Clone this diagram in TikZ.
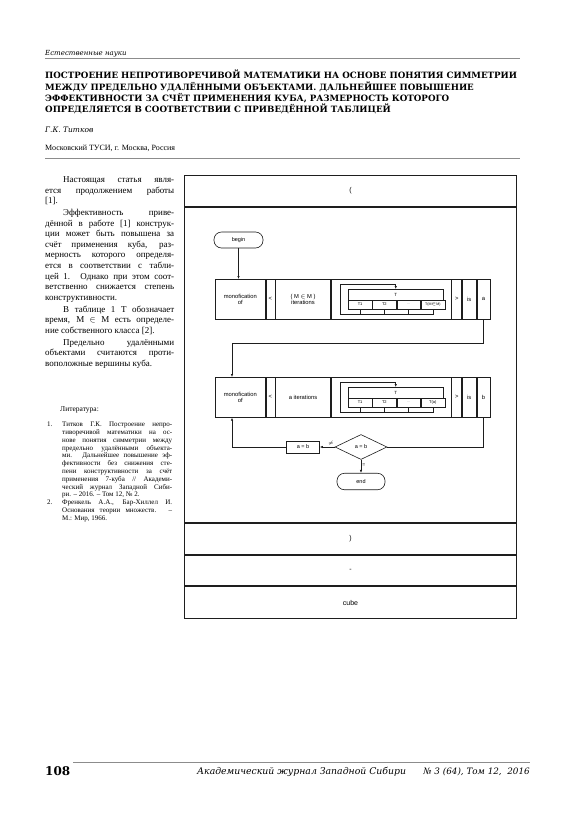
\documentclass[tikz,border=0pt]{standalone}
\usepackage{fontspec}
\setmainfont{Liberation Serif}
\setsansfont{Liberation Sans}
\newfontfamily\slabfont{DejaVu Serif}
\usetikzlibrary{arrows.meta,positioning,shapes.geometric}
\definecolor{rulec}{HTML}{8C8C8C}
\definecolor{linec}{HTML}{1E1E1E}
\definecolor{dimtxt}{HTML}{A0A0A0}
\hyphenpenalty=10000
\exhyphenpenalty=10000

\begin{document}
\begin{tikzpicture}[x=1pt, y=-1pt,
  >={Latex[length=3pt,width=2.4pt]},
  rule/.style={draw=rulec, line width=0.9pt},
  frow/.style={draw=linec, line width=1pt, minimum width=332pt, inner sep=0pt,
     font=\sffamily\fontsize{7}{8}\selectfont},
  cell/.style={draw=linec, line width=0.6pt, inner sep=0pt, minimum height=40pt,
     align=center, font=\sffamily\fontsize{5.8}{6.6}\selectfont},
  term/.style={draw=linec, line width=0.6pt, rounded corners=7.5pt, minimum height=16pt,
     minimum width=49pt, font=\sffamily\fontsize{5.5}{6}\selectfont},
  tbox/.style={draw=linec, line width=0.5pt, inner sep=0pt, minimum width=95pt,
     minimum height=10.5pt, font=\sffamily\fontsize{4.5}{5}\selectfont},
  tsub/.style={tbox, minimum width=23.75pt, minimum height=8.5pt,
     font=\sffamily\fontsize{4}{4.5}\selectfont},
  dec/.style={diamond, draw=linec, line width=0.6pt, inner sep=0.5pt, minimum width=52pt,
     minimum height=25pt, font=\sffamily\fontsize{5.5}{6}\selectfont},
  act/.style={draw=linec, line width=0.6pt, inner sep=0pt, minimum width=33pt,
     minimum height=12pt, font=\sffamily\fontsize{5.5}{6}\selectfont},
  lbl/.style={inner sep=1pt, font=\sffamily\fontsize{5}{5}\selectfont},
  wire/.style={draw=linec, line width=0.6pt},
  txt/.style={inner sep=0pt},
]
\fill[white] (0,0) rectangle (580,820);
\useasboundingbox (0,0) rectangle (580,820);

% --- page head ---
\node[txt, anchor=base west, font=\slabfont\itshape\fontsize{7}{8}\selectfont] (rubric) at (45,55) {Естественные науки};
\draw[rule] (45,58.5) -- (520,58.5);
\node[txt, anchor=north west, align=left, font=\slabfont\bfseries\fontsize{8.7}{11.2}\selectfont] (title) at (45,70)
  {ПОСТРОЕНИЕ НЕПРОТИВОРЕЧИВОЙ МАТЕМАТИКИ НА ОСНОВЕ ПОНЯТИЯ СИММЕТРИИ\\
   МЕЖДУ ПРЕДЕЛЬНО УДАЛЁННЫМИ ОБЪЕКТАМИ. ДАЛЬНЕЙШЕЕ ПОВЫШЕНИЕ\\
   ЭФФЕКТИВНОСТИ ЗА СЧЁТ ПРИМЕНЕНИЯ КУБА, РАЗМЕРНОСТЬ КОТОРОГО\\
   ОПРЕДЕЛЯЕТСЯ В СООТВЕТСТВИИ С ПРИВЕДЁННОЙ ТАБЛИЦЕЙ};
\node[txt, anchor=base west, font=\slabfont\itshape\fontsize{7.5}{9}\selectfont] (author) at (45,132) {Г.К. Титков};
\node[txt, anchor=base west, font=\fontsize{8}{9}\selectfont] (affil) at (45,150) {Московский ТУСИ, г. Москва, Россия};
\draw[rule] (45,158.5) -- (520,158.5);

% --- left column ---
\node[txt, anchor=north west, text width=129pt, align=justify, font=\fontsize{9}{10.6}\selectfont] (column) at (45,176.5) {%
\hspace*{18pt}Настоящая статья явля-\linebreak
ется продолжением работы\linebreak{}[1].\\[1.2pt]
\hspace*{18pt}Эффективность приве-\linebreak
дённой в работе [1] конструк-\linebreak
ции может быть повышена за\linebreak
счёт применения куба, раз-\linebreak
мерность которого определя-\linebreak
ется в соответствии с табли-\linebreak
цей 1. Однако при этом соот-\linebreak
ветственно снижается степень\linebreak
конструктивности.\\[1.2pt]
\hspace*{18pt}В таблице 1 T обозначает\linebreak
время, M~$\in$~M есть определе-\linebreak
ние собственного класса [2].\\[1.2pt]
\hspace*{18pt}Предельно удалёнными\linebreak
объектами считаются проти-\linebreak
воположные вершины куба.};
\node[txt, anchor=base west, font=\fontsize{7.5}{8}\selectfont] (litlabel) at (60,411.5) {Литература:};
\node[txt, anchor=north west, text width=125pt, align=justify, font=\fontsize{7}{7.8}\selectfont] (refs) at (47,421.8) {%
\hangindent=15pt\hangafter=1\noindent\makebox[15pt][l]{1.}Титков Г.К. Построение непро-\linebreak
тиворечивой математики на ос-\linebreak
нове понятия симметрии между\linebreak
предельно удалёнными объекта-\linebreak
ми. Дальнейшее повышение эф-\linebreak
фективности без снижения сте-\linebreak
пени конструктивности за счёт\linebreak
применения 7-куба // Академи-\linebreak
ческий журнал Западной Сиби-\linebreak
ри. – 2016. – Том 12, №~2.\par
\hangindent=15pt\hangafter=1\noindent\makebox[15pt][l]{2.}Френкель А.А., Бар-Хиллел И.\linebreak
Основания теории множеств. –\linebreak
М.: Мир, 1966.\par};

% --- outer frame (rows) ---
\node[frow, minimum height=30.5pt, anchor=north west] (openp) at (184,175) {(};
\node[frow, minimum height=315.5pt, below=0pt of openp] (mainc) {};
\node[frow, minimum height=31pt, below=0pt of mainc] (closep) {)};
\node[frow, minimum height=30pt, below=0pt of closep] (dash) {-};
\node[frow, minimum height=32pt, below=0pt of dash] (cube) {cube};

% --- flowchart ---
\def\ya{279}
\def\yb{377}
\node[term] (begin) at (238.5,240) {begin};
% row 1
\node[cell, minimum width=50pt, anchor=north west] (mono1) at (215,\ya) {monofication\\of};
\node[cell, minimum width=9pt, right=0pt of mono1] (lsym1) {<};
\node[cell, minimum width=55pt, right=0pt of lsym1] (iter1) {( M $\in$ M )\\iterations};
\node[cell, minimum width=120pt, right=0pt of iter1] (tcell1) {};
\node[cell, minimum width=10pt, right=0pt of tcell1] (gsym1) {>};
\node[cell, minimum width=14pt, right=0pt of gsym1] (is1) {is};
\node[cell, minimum width=13pt, right=0pt of is1] (a1) {a};
\node[tbox, anchor=north west] (thead1) at (348,{\ya+10}) {T};
\node[tsub, anchor=north west] (ts11) at (thead1.south west) {T1};
\node[tsub, right=0pt of ts11] (ts12) {T2};
\node[tsub, right=0pt of ts12, text=dimtxt] (ts13) {...};
\node[tsub, right=0pt of ts13, font=\sffamily\fontsize{3.6}{4}\selectfont] (ts14) {T(M$\in$M)};
\coordinate (lpb1) at (340,{\ya+35});
\coordinate (lpt1) at (340,{\ya+5});
% row 2
\node[cell, minimum width=50pt, anchor=north west] (mono2) at (215,\yb) {monofication\\of};
\node[cell, minimum width=9pt, right=0pt of mono2] (lsym2) {<};
\node[cell, minimum width=55pt, right=0pt of lsym2] (iter2) {a iterations};
\node[cell, minimum width=120pt, right=0pt of iter2] (tcell2) {};
\node[cell, minimum width=10pt, right=0pt of tcell2] (gsym2) {>};
\node[cell, minimum width=14pt, right=0pt of gsym2] (is2) {is};
\node[cell, minimum width=13pt, right=0pt of is2] (b2) {b};
\node[tbox, anchor=north west] (thead2) at (348,{\yb+10}) {T};
\node[tsub, anchor=north west] (ts21) at (thead2.south west) {T1};
\node[tsub, right=0pt of ts21] (ts22) {T2};
\node[tsub, right=0pt of ts22, text=dimtxt] (ts23) {...};
\node[tsub, right=0pt of ts23] (ts24) {T(a)};
\coordinate (lpb2) at (340,{\yb+35});
\coordinate (lpt2) at (340,{\yb+5});
% check and exit
\node[dec] (dec) at (361,447) {a = b};
\node[act] (asgn) at (303,447) {a = b};
\node[term, minimum width=48pt, minimum height=16.5pt] (end) at (361,481.5) {end};
\coordinate (turn) at (232,343);

% --- connectors ---
\foreach \c in {ts11,ts12,ts13} \draw[wire] (\c.south) -- (\c.south |- lpb1);
\draw[wire,->] (ts14.south) |- (lpb1) -- (lpt1) -| (thead1.north);
\foreach \c in {ts21,ts22,ts23} \draw[wire] (\c.south) -- (\c.south |- lpb2);
\draw[wire,->] (ts24.south) |- (lpb2) -- (lpt2) -| (thead2.north);
\draw[wire,->] (begin) -- (begin |- mono1.north);
\draw[wire,->] (a1.south) |- (turn) -- (turn |- mono2.north);
\draw[wire] (b2.south) |- (dec.east);
\draw[wire,->] (dec.west) -- node[lbl, above, pos=0.25] {$\neq$} (asgn.east);
\draw[wire,->] (asgn.west) -| (turn |- mono2.south);
\draw[wire,->] (dec.south) -- node[lbl, right, pos=0.4] {=} (end.north);

% --- page foot ---
\draw[rule] (73,762) -- (530,762);
\node[txt, anchor=base west, font=\slabfont\bfseries\fontsize{12}{12}\selectfont] (pageno) at (45,775) {108};
\node[txt, anchor=base west, font=\slabfont\itshape\fontsize{9.3}{10}\selectfont] (journal) at (197,774) {Академический журнал Западной Сибири};
\node[txt, anchor=base east, font=\slabfont\itshape\fontsize{8.8}{10}\selectfont] (issue) at (530,774) {№ 3 (64),\ Том 12,\ \ 2016};
\end{tikzpicture}
\end{document}
